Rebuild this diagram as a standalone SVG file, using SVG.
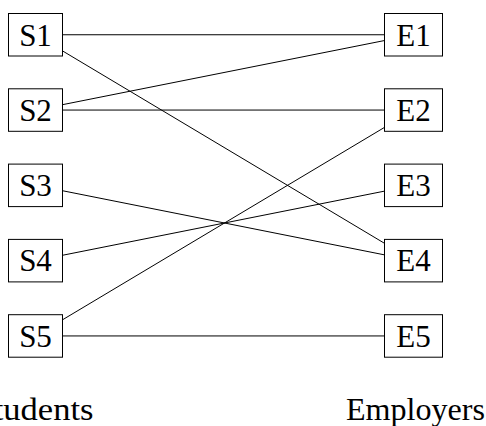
<svg xmlns="http://www.w3.org/2000/svg" width="486" height="426" viewBox="0 0 486 426">
<style>
rect{fill:#fff;stroke:#000;stroke-width:1}
line{stroke:#000;stroke-width:1}
text{font-size:31px;text-anchor:middle;fill:#000}
</style>
<rect x="0" y="0" width="486" height="426" style="stroke:none"/>
<g id="connectors">
<line x1="35.5" y1="34.75" x2="413.5" y2="34.75"/>
<line x1="35.5" y1="34.75" x2="413.5" y2="260.65"/>
<line x1="35.5" y1="110.05" x2="413.5" y2="34.75"/>
<line x1="35.5" y1="110.05" x2="413.5" y2="110.05"/>
<line x1="35.5" y1="185.35" x2="413.5" y2="260.65"/>
<line x1="35.5" y1="260.65" x2="413.5" y2="185.35"/>
<line x1="35.5" y1="335.95" x2="413.5" y2="110.05"/>
<line x1="35.5" y1="335.95" x2="413.5" y2="335.95"/>
</g>
<g font-family="'Liberation Serif', 'DejaVu Serif', serif">
<g id="S1"><rect x="8.5" y="13.5" width="54" height="42.5"/><text x="35.5" y="45.5">S1</text></g>
<g id="S2"><rect x="8.5" y="88.8" width="54" height="42.5"/><text x="35.5" y="120.8">S2</text></g>
<g id="S3"><rect x="8.5" y="164.1" width="54" height="42.5"/><text x="35.5" y="196.1">S3</text></g>
<g id="S4"><rect x="8.5" y="239.4" width="54" height="42.5"/><text x="35.5" y="271.4">S4</text></g>
<g id="S5"><rect x="8.5" y="314.7" width="54" height="42.5"/><text x="35.5" y="346.7">S5</text></g>
<g id="E1"><rect x="384.5" y="13.5" width="58" height="42.5"/><text x="413.5" y="45.5">E1</text></g>
<g id="E2"><rect x="384.5" y="88.8" width="58" height="42.5"/><text x="413.5" y="120.8">E2</text></g>
<g id="E3"><rect x="384.5" y="164.1" width="58" height="42.5"/><text x="413.5" y="196.1">E3</text></g>
<g id="E4"><rect x="384.5" y="239.4" width="58" height="42.5"/><text x="413.5" y="271.4">E4</text></g>
<g id="E5"><rect x="384.5" y="314.7" width="58" height="42.5"/><text x="413.5" y="346.7">E5</text></g>
<g id="labels">
<text x="34" y="420" textLength="119" lengthAdjust="spacingAndGlyphs">Students</text>
<text x="415.4" y="420" textLength="139" lengthAdjust="spacingAndGlyphs">Employers</text>
</g>
</g>
</svg>
